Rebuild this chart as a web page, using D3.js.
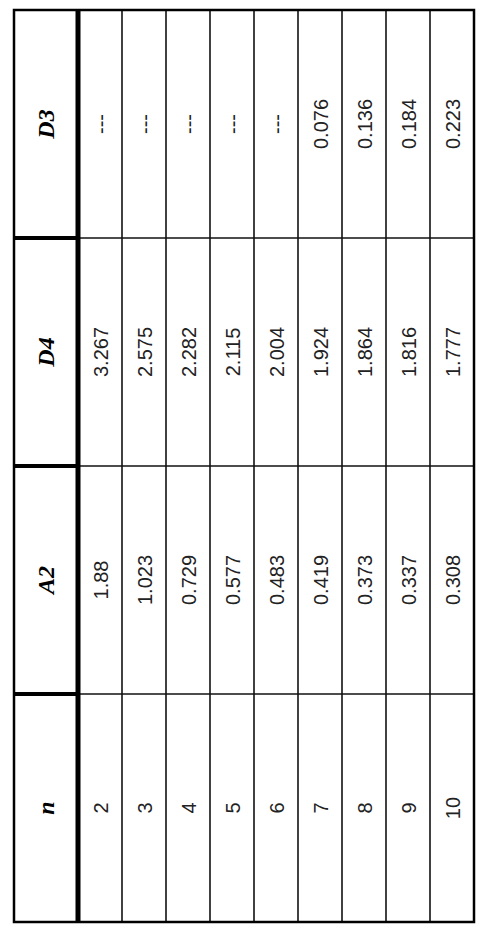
<!DOCTYPE html><html><head><meta charset="utf-8"><script src="https://cdn.jsdelivr.net/npm/d3@7"></script>
<style>body{margin:0;background:#fff}</style></head><body><svg id="c" width="504" height="936"></svg>
<script>
const headers=["n","A2","D4","D3"];
const nVals=["2","3","4","5","6","7","8","9","10"];
const a2=["1.88","1.023","0.729","0.577","0.483","0.419","0.373","0.337","0.308"];
const d4=["3.267","2.575","2.282","2.115","2.004","1.924","1.864","1.816","1.777"];
const d3v=["---","---","---","---","---","0.076","0.136","0.184","0.223"];
const cols=[nVals,a2,d4,d3v];
(function(){
const svg=d3.select("#c");
const L=14,R=474,T=10,B=922,hdrW=64;
const x=d3.scaleBand().domain(nVals).range([L+hdrW,R]);
const y=d3.scaleBand().domain(headers).range([B,T]);
const g=svg.append("g");
headers.forEach((h,i)=>{
  const yy=y(h);
  g.append("text").attr("transform",`translate(${L+hdrW/2+8},${yy+y.bandwidth()/2}) rotate(-90)`)
   .attr("text-anchor","middle").attr("font-family","Liberation Serif").attr("font-style","italic").attr("font-weight","bold").attr("font-size",24).text(h);
  cols[i].forEach((v,j)=>{
    g.append("text").attr("transform",`translate(${x(nVals[j])+x.bandwidth()/2+8},${yy+y.bandwidth()/2}) rotate(-90)`)
     .attr("text-anchor","middle").attr("font-family","Liberation Sans").attr("font-size",20).attr("fill","#222").text(v);
  });
});
nVals.slice(1).forEach(v=>g.append("line").attr("x1",x(v)).attr("x2",x(v)).attr("y1",T).attr("y2",B).attr("stroke","#111").attr("stroke-width",1.6));
headers.slice(0,3).forEach(h=>{
  const yy=y(h);
  g.append("line").attr("x1",L).attr("x2",L+hdrW).attr("y1",yy).attr("y2",yy).attr("stroke","#000").attr("stroke-width",4);
  g.append("line").attr("x1",L+hdrW).attr("x2",R).attr("y1",yy).attr("y2",yy).attr("stroke","#111").attr("stroke-width",1.6);
});
g.append("rect").attr("x",L).attr("y",T).attr("width",R-L).attr("height",B-T).attr("fill","none").attr("stroke","#000").attr("stroke-width",2.5);
g.append("line").attr("x1",L+hdrW).attr("x2",L+hdrW).attr("y1",T).attr("y2",B).attr("stroke","#000").attr("stroke-width",5);
})();
</script></body></html>
